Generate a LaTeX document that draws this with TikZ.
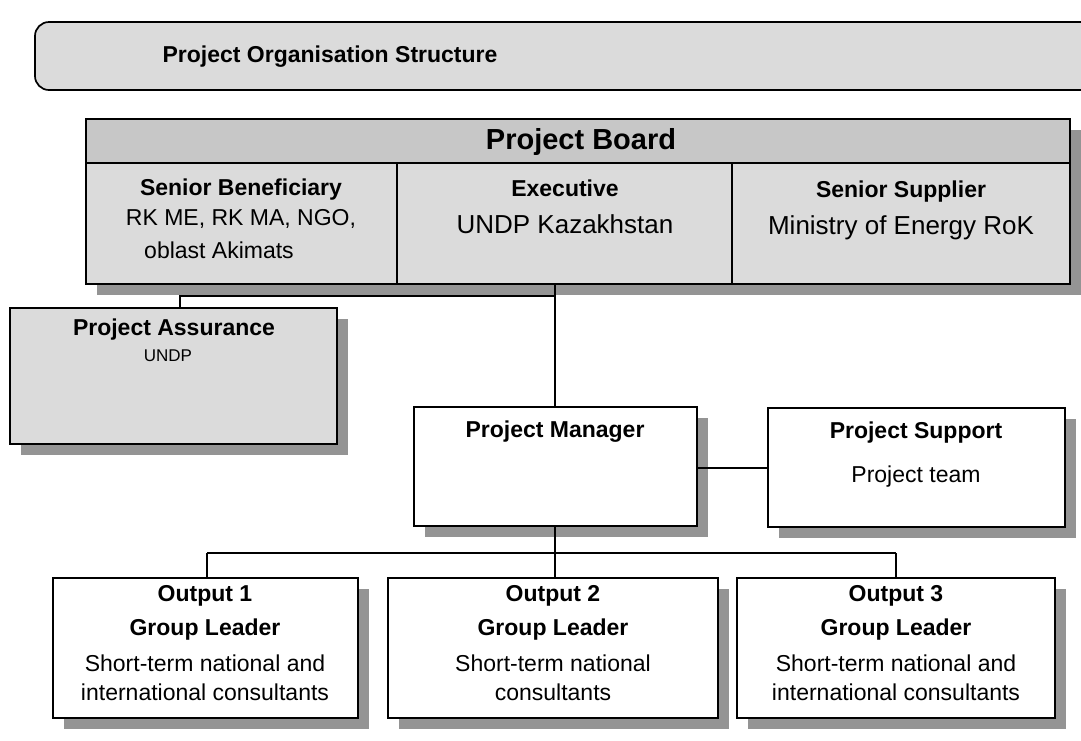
\documentclass[tikz,border=0pt]{standalone}
\usepackage{fontspec}
\setmainfont{Liberation Sans}
\usetikzlibrary{shadows}
\definecolor{stipple}{gray}{0.86}
\definecolor{stippledark}{gray}{0.78}
\definecolor{shadowgray}{gray}{0.58}
\begin{document}
\begin{tikzpicture}[x=1pt,y=-1pt,
  frame/.style={draw=black, line width=1.7pt, rectangle, inner sep=0pt, outer sep=0pt, anchor=north west},
  shadowed/.style={drop shadow={shadow xshift=11pt, shadow yshift=-11pt, fill=shadowgray, opacity=1}},
  link/.style={draw=black, line width=1.3pt},
  ttlfont/.style={font=\bfseries\fontsize{23}{28}\selectfont},
  brdfont/.style={font=\bfseries\fontsize{29}{34}\selectfont},
  headfont/.style={font=\bfseries\fontsize{23}{27}\selectfont},
  bodyfont/.style={font=\fontsize{23}{27}\selectfont},
  orgfont/.style={font=\fontsize{26}{30}\selectfont},
  smallfont/.style={font=\fontsize{17}{20}\selectfont},
]
\useasboundingbox (0,0) rectangle (1081,740);
\clip (0,0) rectangle (1081,740);

% heading banner
\node[frame, fill=stipple, rounded corners=14pt, minimum width=1080pt, minimum height=68pt] (ttlbox) at (35,22) {};
\node[ttlfont] (ttl) at (330,57) {Project Organisation Structure};

% project board with its three roles
\node[frame, shadowed, fill=stipple, minimum width=984pt, minimum height=165pt] (board) at (86,119) {};
\node[frame, fill=stippledark, minimum width=984pt, minimum height=44pt] (boardhead) at (86,119) {};
\node[frame, minimum width=311pt, minimum height=121pt] (sb) at (86,163) {};
\node[frame, minimum width=335pt, minimum height=121pt] (ex) at (397,163) {};
\node[frame, minimum width=338pt, minimum height=121pt] (ss) at (732,163) {};

\node[brdfont] (brdlbl) at (581,142) {Project Board};
\node[headfont] (sbh) at (241,190) {Senior Beneficiary};
\node[bodyfont] (sb1) at (241,219) {RK ME, RK MA, NGO,};
\node[bodyfont] (sb2) at (219,250) {oblast Akimats};
\node[headfont] (exh) at (565,188) {Executive};
\node[orgfont] (ex1) at (565,224) {UNDP Kazakhstan};
\node[headfont] (ssh) at (901,192) {Senior Supplier};
\node[orgfont] (ss1) at (901,228) {Ministry of Energy RoK};

% assurance
\node[frame, shadowed, fill=stipple, minimum width=327pt, minimum height=136pt] (pa) at (10,308) {};
\node[headfont] (pah) at (174,330) {Project Assurance};
\node[smallfont] (pa1) at (168,356) {UNDP};

% management and support
\node[frame, shadowed, fill=white, minimum width=283pt, minimum height=119pt] (pm) at (414,407) {};
\node[headfont] (pmh) at (555,432) {Project Manager};
\node[frame, shadowed, fill=white, minimum width=297pt, minimum height=119pt] (ps) at (768,408) {};
\node[headfont] (psh) at (916,433) {Project Support};
\node[bodyfont] (ps1) at (916,477) {Project team};

% output groups
\node[frame, shadowed, fill=white, minimum width=305pt, minimum height=140pt] (o1) at (53,578) {};
\node[frame, shadowed, fill=white, minimum width=330pt, minimum height=140pt] (o2) at (388,578) {};
\node[frame, shadowed, fill=white, minimum width=318pt, minimum height=140pt] (o3) at (737,578) {};

\node[headfont] (o1a) at (205,596) {Output 1};
\node[headfont] (o1b) at (205,630) {Group Leader};
\node[bodyfont] (o1c) at (205,663) {Short-term national and};
\node[bodyfont] (o1d) at (205,692) {international consultants};

\node[headfont] (o2a) at (553,596) {Output 2};
\node[headfont] (o2b) at (553,630) {Group Leader};
\node[bodyfont] (o2c) at (553,663) {Short-term national};
\node[bodyfont] (o2d) at (553,692) {consultants};

\node[headfont] (o3a) at (896,596) {Output 3};
\node[headfont] (o3b) at (896,630) {Group Leader};
\node[bodyfont] (o3c) at (896,663) {Short-term national and};
\node[bodyfont] (o3d) at (896,692) {international consultants};

% connectors
\coordinate (trunk) at (555,296);
\coordinate (paknee) at (180,296);
\coordinate (bus) at (555,553);
\coordinate (busL) at (207,553);
\coordinate (busR) at (896,553);
\coordinate (side) at (740,468);

\draw[link] (trunk |- board.south) -- (trunk) -- (pm.north -| trunk);
\draw[link] (trunk) -- (paknee) -- (pa.north -| paknee);
\draw[link] (pm.south -| bus) -- (o2.north -| bus);
\draw[link] (busL) -- (busR);
\draw[link] (busL) -- (o1.north -| busL);
\draw[link] (busR) -- (o3.north -| busR);
\draw[link] (pm.east |- side) -- (ps.west |- side);
\end{tikzpicture}
\end{document}
